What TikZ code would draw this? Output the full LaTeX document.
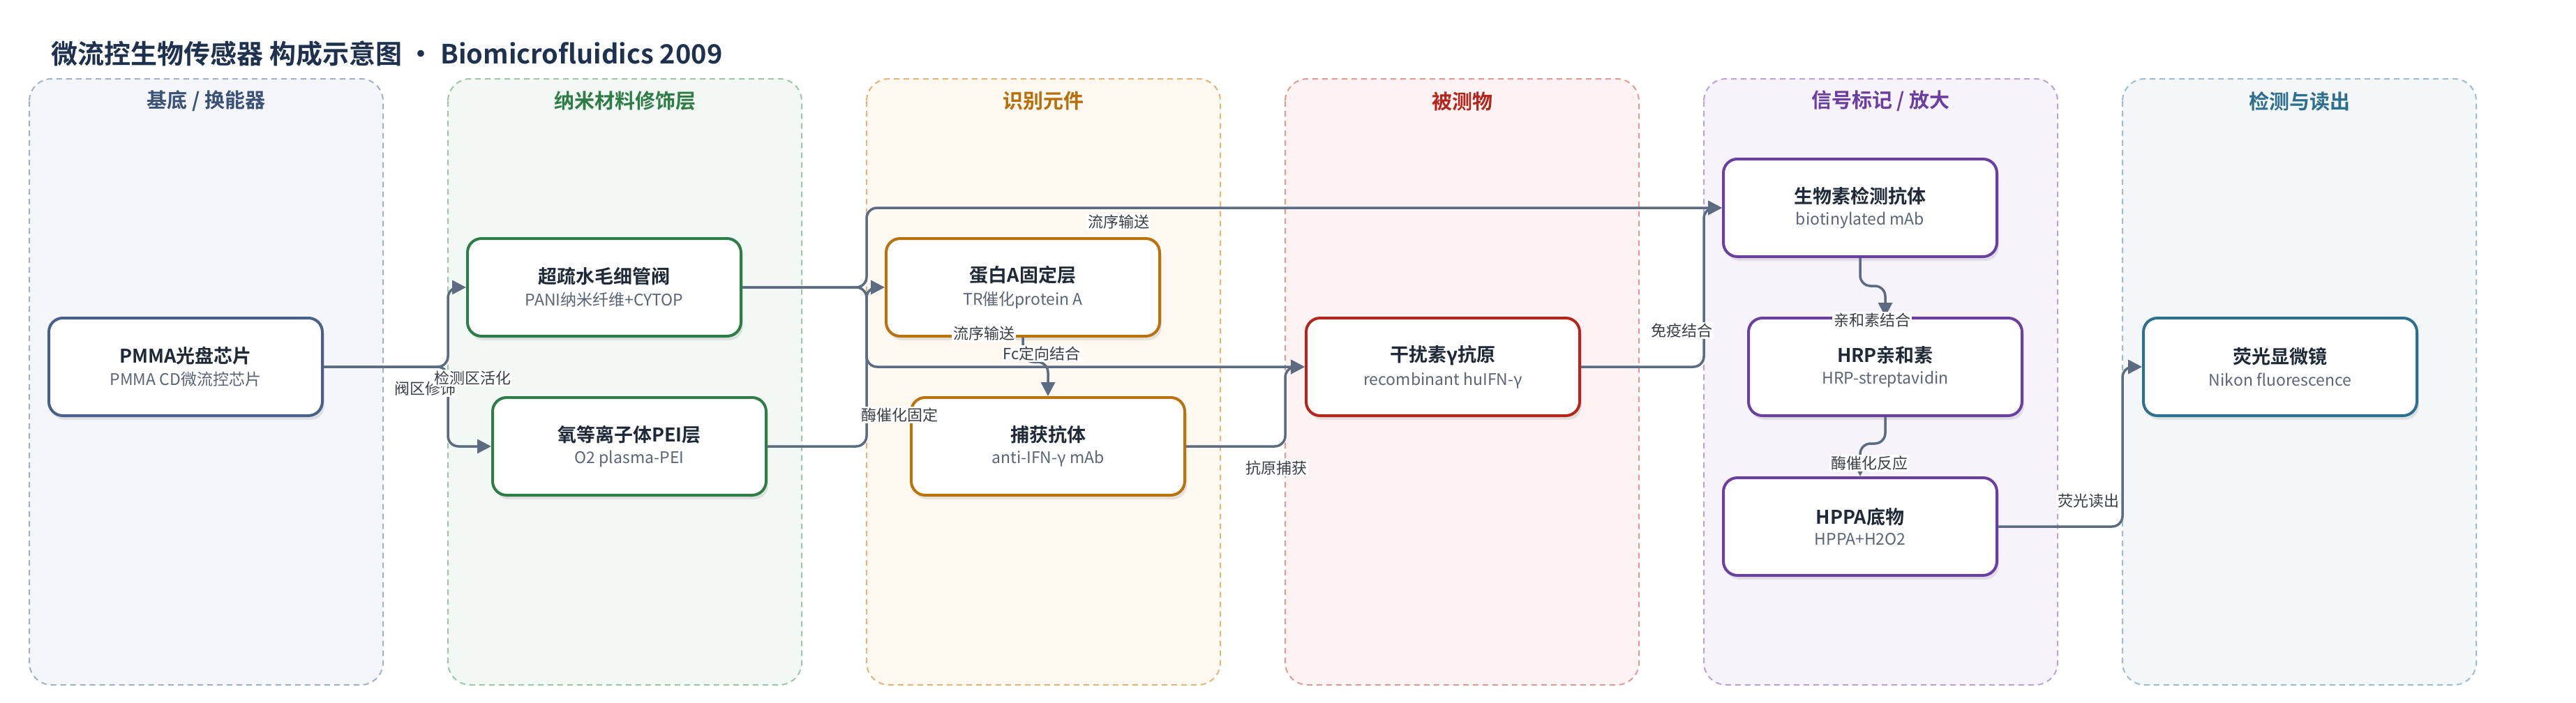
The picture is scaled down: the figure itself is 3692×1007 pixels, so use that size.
\documentclass[tikz,border=0pt]{standalone}
\usepackage{fontspec}
\setmainfont{Noto Sans CJK SC}[BoldFont={Noto Sans CJK SC Bold}]
\usetikzlibrary{arrows.meta,shadows}

% lane colours
\definecolor{fillA}{HTML}{F5F6FA}\definecolor{dashA}{HTML}{A3B1C6}\definecolor{textA}{HTML}{3B5278}\definecolor{edgeA}{HTML}{48618A}
\definecolor{fillB}{HTML}{F2F8F4}\definecolor{dashB}{HTML}{9CC7A8}\definecolor{textB}{HTML}{2E7D46}\definecolor{edgeB}{HTML}{2E7D46}
\definecolor{fillC}{HTML}{FDF8F0}\definecolor{dashC}{HTML}{E2B679}\definecolor{textC}{HTML}{B86E0A}\definecolor{edgeC}{HTML}{B8730D}
\definecolor{fillD}{HTML}{FDF3F2}\definecolor{dashD}{HTML}{E39A96}\definecolor{textD}{HTML}{B3261E}\definecolor{edgeD}{HTML}{B3261E}
\definecolor{fillE}{HTML}{F6F3FB}\definecolor{dashE}{HTML}{BBA3DA}\definecolor{textE}{HTML}{6A3FA0}\definecolor{edgeE}{HTML}{6A3FA0}
\definecolor{fillF}{HTML}{F3F7F8}\definecolor{dashF}{HTML}{9DBECC}\definecolor{textF}{HTML}{2E6E8E}\definecolor{edgeF}{HTML}{2E6F8E}
\definecolor{flowc}{HTML}{5B6B82}
\definecolor{titlec}{HTML}{1E3250}
\definecolor{headc}{HTML}{1F2937}
\definecolor{subc}{HTML}{5B6577}
\definecolor{lblc}{HTML}{3A3F47}

\newcommand{\twoline}[2]{{\fontsize{27}{34}\selectfont\bfseries\color{headc}#1}\\[9pt]{\fontsize{23}{30}\selectfont\color{subc}#2}}

\tikzset{
  box/.style={draw, line width=4pt, fill=white, rounded corners=20pt,
    minimum width=392pt, minimum height=140pt, align=center, inner sep=0pt,
    drop shadow={shadow xshift=3pt, shadow yshift=-6pt, opacity=0.18}},
  flow/.style={draw=flowc, line width=3.5pt, rounded corners=15pt,
    -{Triangle[length=20pt,width=20pt]}},
  lbl/.style={fill=white, inner sep=2pt, text=lblc, font=\fontsize{22}{24}\selectfont},
  lane/.style={line width=2pt, dash pattern=on 8pt off 6pt, rounded corners=32pt},
  lanetitle/.style={font=\fontsize{29}{32}\selectfont\bfseries},
}

\begin{document}
\begin{tikzpicture}[x=1pt, y=-1pt]

    \useasboundingbox (0,0) rectangle (3692,1007);
    \fill[white] (0,0) rectangle (3692,1007);

    % Title
    \node[anchor=west, text=titlec, font=\fontsize{38}{42}\selectfont\bfseries] (title) at (70,77)
        {微流控生物传感器 构成示意图 • Biomicrofluidics 2009};

    % Lanes
    \foreach \k/\lx/\ttl in {A/42/{基底 / 换能器}, B/642/纳米材料修饰层, C/1242/识别元件,
                             D/1842/被测物, E/2442/{信号标记 / 放大}, F/3042/检测与读出} {
        \draw[lane, draw=dash\k, fill=fill\k] (\lx,113) rectangle ++(507,869);
        \node[lanetitle, text=text\k] (lane\k) at (\lx+253.5,145) {\ttl};
    }

    % Routing columns
    \coordinate (colB) at (642,0);
    \coordinate (colC) at (1242,0);
    \coordinate (colD) at (1842,0);
    \coordinate (colE) at (2442,0);
    \coordinate (colF) at (3042,0);

    % Nodes
    \node[box, draw=edgeA] (pmma) at (266,526) {\twoline{PMMA光盘芯片}{PMMA CD微流控芯片}};
    \node[box, draw=edgeB] (sv) at (866,412) {\twoline{超疏水毛细管阀}{PANI纳米纤维+CYTOP}};
    \node[box, draw=edgeB] (ox) at (902,640) {\twoline{氧等离子体PEI层}{O2 plasma-PEI}};
    \node[box, draw=edgeC] (pa) at (1466,412) {\twoline{蛋白A固定层}{TR催化protein A}};
    \node[box, draw=edgeC] (cab) at (1502,640) {\twoline{捕获抗体}{anti-IFN-γ mAb}};
    \node[box, draw=edgeD] (ifn) at (2068,526) {\twoline{干扰素γ抗原}{recombinant huIFN-γ}};
    \node[box, draw=edgeE] (bio) at (2666,298) {\twoline{生物素检测抗体}{biotinylated mAb}};
    \node[box, draw=edgeE] (hrp) at (2702,526) {\twoline{HRP亲和素}{HRP-streptavidin}};
    \node[box, draw=edgeE] (hppa) at (2666,755) {\twoline{HPPA底物}{HPPA+H2O2}};
    \node[box, draw=edgeF] (mic) at (3268,526) {\twoline{荧光显微镜}{Nikon fluorescence}};

    % Edges
    \draw[flow] (pmma.east) -| (colB |- sv.west) -- (sv.west);
    \draw[flow] (pmma.east) -| (colB |- ox.west) -- (ox.west);
    \draw[flow] (sv.east) -| (colC |- bio.west) -- (bio.west);
    \draw[flow] (sv.east) -| (colC |- ifn.west) -- (ifn.west);
    \draw[flow] (ox.east) -| (colC |- pa.west) -- (pa.west);
    \draw[flow] (pa.south) -- ++(0,35) -| (cab.north);
    \draw[flow] (cab.east) -| (colD |- ifn.west) -- (ifn.west);
    \draw[flow] (ifn.east) -| (colE |- bio.west) -- (bio.west);
    \draw[flow] (bio.south) -- ++(0,40) -| (hrp.north);
    \draw[flow] (hrp.south) -- ++(0,38) -| (hppa.north);
    \draw[flow] (hppa.east) -| (colF |- mic.west) -- (mic.west);

    % Edge labels
    \node[lbl] (l1) at (609,557) {阀区修饰};
    \node[lbl] (l2) at (677,542) {检测区活化};
    \node[lbl] (l3) at (1603,318) {流序输送};
    \node[lbl] (l4) at (1410,478) {流序输送};
    \node[lbl] (l5) at (1289,595) {酶催化固定};
    \node[lbl] (l6) at (1493,507) {Fc定向结合};
    \node[lbl] (l7) at (1829,671) {抗原捕获};
    \node[lbl] (l8) at (2410,474) {免疫结合};
    \node[lbl] (l9) at (2683,459) {亲和素结合};
    \node[lbl] (l10) at (2679,664) {酶催化反应};
    \node[lbl] (l11) at (2993,718) {荧光读出};

\end{tikzpicture}
\end{document}
